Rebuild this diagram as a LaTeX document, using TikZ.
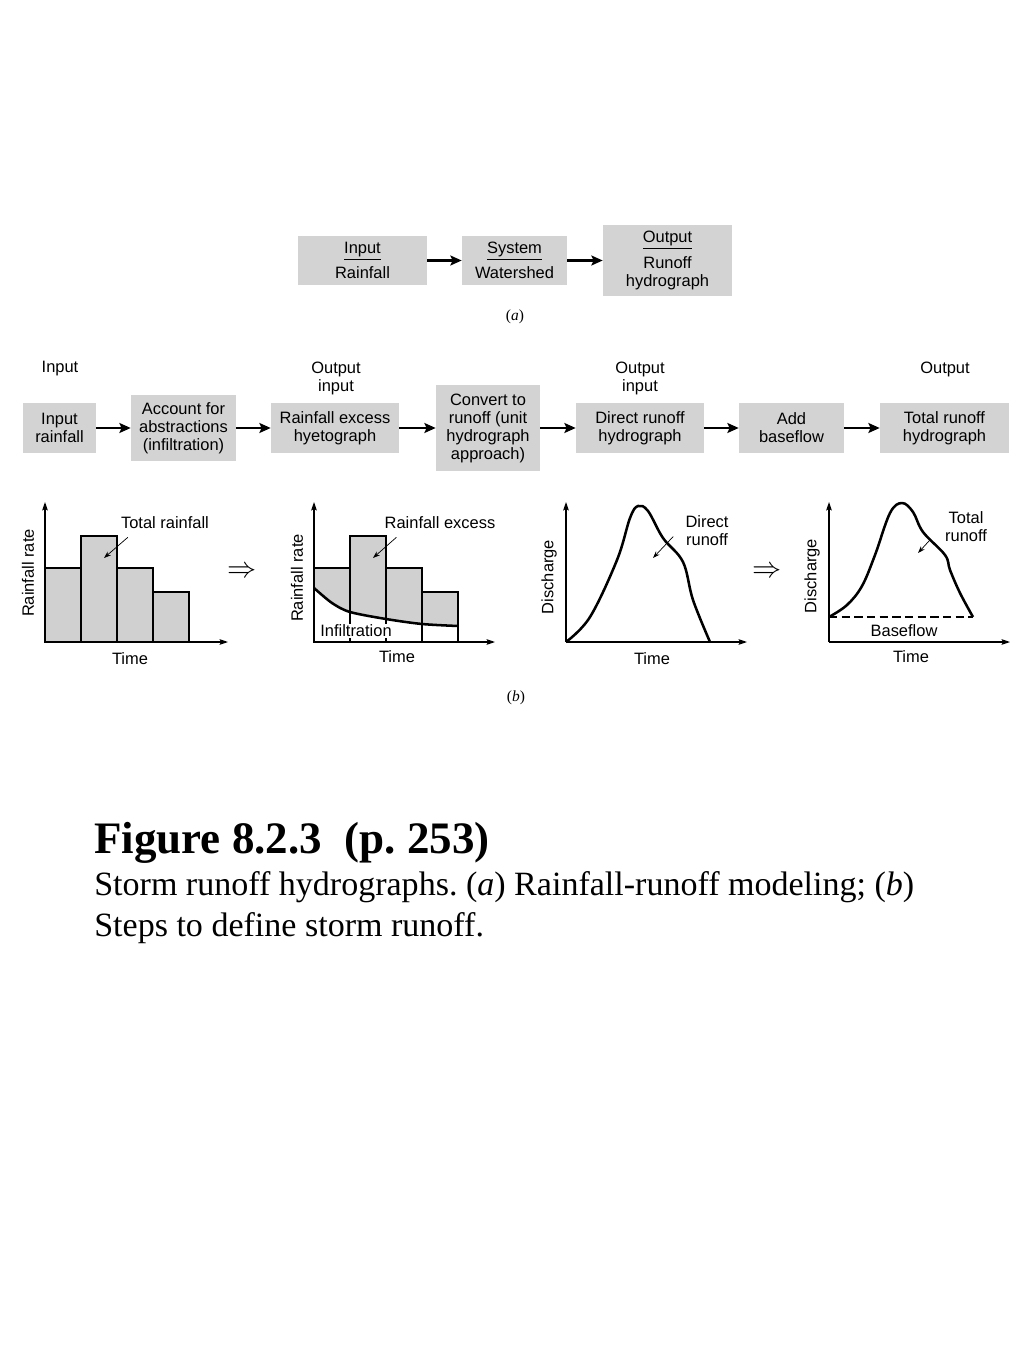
\documentclass[tikz,border=0pt]{standalone}
\usepackage{fontspec}
\setmainfont{Liberation Sans}
\newfontfamily\capfont{Liberation Serif}
\usetikzlibrary{arrows.meta, positioning}
\definecolor{boxgray}{HTML}{D3D3D3}
\definecolor{bargray}{HTML}{D0D0D0}
\frenchspacing

\begin{document}
\begin{tikzpicture}[x=0.025cm, y=-0.025cm,
  every node/.style={font=\fontsize{11.7}{12.8}\selectfont, inner sep=0pt},
  procbox/.style={fill=boxgray, align=center},
  flow/.style={line width=1.8pt, -{Stealth[length=8pt, width=7pt, inset=1.5pt]}},
  axis/.style={line width=0.9pt, -{Stealth[length=6pt, width=4pt, inset=1pt]}},
  callout/.style={line width=0.5pt, -{Stealth[length=5pt, width=3.5pt]}},
  curve/.style={line width=1.8pt, line join=round},
  bar/.style={line width=0.9pt},
  imply/.style={font=\fontsize{20}{20}\selectfont}]

% Page
\fill[white] (0,0) rectangle (1024,1365);
\useasboundingbox (0,0) rectangle (1024,1365);

% (a) Rainfall-runoff modeling
\node[procbox, minimum width=3.225cm, minimum height=1.225cm] (inp) at (362.5,260.5) {\underline{Input}\\[4pt]Rainfall};
\node[procbox, minimum width=2.625cm, minimum height=1.225cm] (sys) at (514.5,260.5) {\underline{System}\\[4pt]Watershed};
\node[procbox, minimum width=3.225cm, minimum height=1.75cm] (outp) at (667.5,260.5) {\underline{Output}\\[4pt]Runoff\\hydrograph};
\draw[flow] (inp) -- (sys);
\draw[flow] (sys) -- (outp);
\node[font=\capfont\fontsize{11}{13}\selectfont] (capa) at (515,317) {(\textit{a})};

% (b) Steps
\node (lin) at (60,369) {Input};
\node[align=center] (lout1) at (336,378) {Output\\input};
\node[align=center] (lout2) at (640,378) {Output\\input};
\node (lout3) at (945,369) {Output};

\node[procbox, minimum width=1.825cm, minimum height=1.25cm] (rain) at (59.5,428) {Input\\rainfall};
\node[procbox, minimum width=2.625cm, minimum height=1.65cm] (abstr) at (183.5,428) {Account for\\abstractions\\(infiltration)};
\node[procbox, minimum width=3.2cm, minimum height=1.225cm] (excess) at (335,428) {Rainfall excess\\hyetograph};
\node[procbox, minimum width=2.6cm, minimum height=2.125cm] (conv) at (488,428) {Convert to\\runoff (unit\\hydrograph\\approach)};
\node[procbox, minimum width=3.2cm, minimum height=1.225cm] (direct) at (640,428) {Direct runoff\\hydrograph};
\node[procbox, minimum width=2.625cm, minimum height=1.225cm] (addbase) at (791.5,428) {Add\\baseflow};
\node[procbox, minimum width=3.225cm, minimum height=1.225cm] (total) at (944.5,428) {Total runoff\\hydrograph};
\foreach \a/\b in {rain/abstr, abstr/excess, excess/conv, conv/direct, direct/addbase, addbase/total}
  \draw[flow] (\a) -- (\b);

% Graph 1: total rainfall
\foreach \x/\t in {45/568, 81/536, 117/568, 153/592}
  \draw[bar, fill=bargray] (\x,642) rectangle (\x+36,\t);
\draw[axis] (45,642) -- (45,502);
\draw[axis] (45,642) -- (228,642);
\node[rotate=90] (ylab1) at (28,573) {Rainfall rate};
\node (xlab1) at (130,659) {Time};
\node (totrain) at (165,523) {Total rainfall};
\coordinate (totrain-tip) at (104,558);
\draw[callout] ([shift={(7,8)}]totrain.south west) -- (totrain-tip);

\node[imply] (imp1) at (242,572) {$\Rightarrow$};

% Graph 2: rainfall excess
\foreach \x/\t in {314/568, 350/536, 386/568, 422/592}
  \fill[bargray] (\x,642) rectangle (\x+36,\t);
\fill[white] plot[smooth] coordinates {(314,588) (332,603) (350,612) (386,619) (422,624) (458,626)} -- (458,642) -- (314,642) -- cycle;
\foreach \x/\t in {314/568, 350/536, 386/568, 422/592}
  \draw[bar] (\x,642) rectangle (\x+36,\t);
\draw[curve] plot[smooth] coordinates {(314,588) (332,603) (350,612) (386,619) (422,624) (458,626)};
\draw[axis] (314,642) -- (314,502);
\draw[axis] (314,642) -- (495,642);
\node[rotate=90] (ylab2) at (297,578) {Rainfall rate};
\node (xlab2) at (397,657) {Time};
\node[fill=white, inner sep=1pt] (infil) at (356,631) {Infiltration};
\node (rexcess) at (440,523) {Rainfall excess};
\coordinate (rexcess-tip) at (373,558);
\draw[callout] ([shift={(12,8)}]rexcess.south west) -- (rexcess-tip);

% Graph 3: direct runoff
\draw[curve] plot[smooth, tension=0.6] coordinates {(566,642) (590,617) (617,560) (630,518) (638,506) (648,511) (663,538) (683,562) (693,600) (710,642)};
\draw[axis] (566,642) -- (566,502);
\draw[axis] (566,642) -- (747,642);
\node[rotate=90] (ylab3) at (549,577) {Discharge};
\node (xlab3) at (652,659) {Time};
\node[align=center] (dirlbl) at (707,530.5) {Direct\\runoff};
\coordinate (dirlbl-tip) at (653,558);
\draw[callout] ([shift={(-12,6)}]dirlbl.west) -- (dirlbl-tip);

\node[imply] (imp2) at (767,572) {$\Rightarrow$};

% Graph 4: total runoff
\draw[line width=0.8pt, dash pattern=on 6pt off 3pt] (829,617) -- (973,617);
\draw[curve] plot[smooth, tension=0.6] coordinates {(829,617) (847,605) (862,586) (875,555) (890,513) (902,503) (913,512) (923,532) (945,555) (950,570) (960,593) (973,617)};
\draw[axis] (829,642) -- (829,502);
\draw[axis] (829,642) -- (1010,642);
\node[rotate=90] (ylab4) at (812,576) {Discharge};
\node (xlab4) at (911,657) {Time};
\node (baseflow) at (904,631) {Baseflow};
\node[align=center] (totlbl) at (966,527) {Total\\runoff};
\coordinate (totlbl-tip) at (918,553);
\draw[callout] ([shift={(-14,12)}]totlbl.west) -- (totlbl-tip);

\node[font=\capfont\fontsize{11}{13}\selectfont] (capb) at (516,698) {(\textit{b})};

% Caption
\node[anchor=base west, font=\capfont\bfseries\fontsize{32}{36}\selectfont] (figttl) at (94,853) {Figure 8.2.3\ \ (p. 253)};
\node[anchor=base west, font=\capfont\fontsize{24.2}{29}\selectfont] (figcap1) at (94,895) {Storm runoff hydrographs. (\textit{a}) Rainfall-runoff modeling; (\textit{b})};
\node[anchor=base west, font=\capfont\fontsize{24.2}{29}\selectfont] (figcap2) at (94,936) {Steps to define storm runoff.};

\end{tikzpicture}
\end{document}
